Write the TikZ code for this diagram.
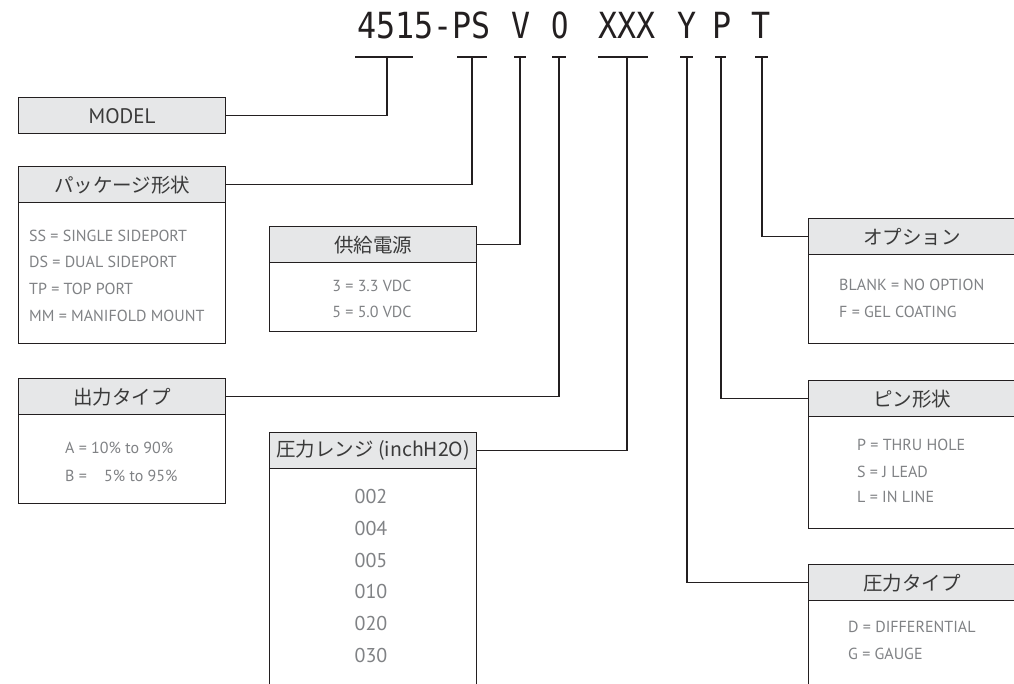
\documentclass[tikz,border=0pt]{standalone}
\usepackage{fontspec}
\setmainfont{PT Sans}
\newfontfamily\jp{Noto Sans CJK JP}
\newfontfamily\titlefont{DejaVu Sans Mono}
\definecolor{lc}{HTML}{231F20}
\definecolor{hf}{HTML}{E6E7E8}
\definecolor{ht}{HTML}{3A3A3A}
\definecolor{bt}{HTML}{808285}
\tikzset{
 ln/.style={line width=1.3pt, draw=lc},
 hdr/.style={draw=lc, line width=1.3pt, fill=hf, minimum width=207pt, minimum height=36pt, inner sep=0pt, anchor=north west, text=ht, font=\jp\fontsize{19.5}{20}\selectfont},
 bodybox/.style={draw=lc, line width=1.3pt, fill=white, minimum width=207pt, inner sep=0pt, anchor=north west},
 item/.style={text=bt, font=\fontsize{16}{17}\selectfont, inner sep=0pt, text height=11pt, text depth=0pt},
 rng/.style={text=bt, font=\fontsize{20}{22}\selectfont, inner sep=0pt, text height=14pt, text depth=0pt},
 ttl/.style={text=lc, font=\titlefont\fontsize{36}{40}\selectfont, inner sep=0pt, anchor=base},
}
\begin{document}
\begin{tikzpicture}[x=1pt,y=-1pt]
\useasboundingbox (0,0) rectangle (1014,683);
\clip (0,0) rectangle (1014,683);
% title
\node[ttl] (c1) at (424,38) {\scalebox{0.88}[1]{4515-PS}};
\node[ttl] (c2) at (521,38) {\scalebox{0.88}[1]{V}};
\node[ttl] (c3) at (560,38) {\scalebox{0.8}[1]{O}};
\node[ttl] (c4) at (627,38) {\scalebox{0.88}[1]{XXX}};
\node[ttl] (c5) at (687,38) {\scalebox{0.88}[1]{Y}};
\node[ttl] (c6) at (722,38) {\scalebox{0.88}[1]{P}};
\node[ttl] (c7) at (761,38) {\scalebox{0.88}[1]{T}};
% tick coordinates
\coordinate (tm) at (387,57);
\coordinate (tps) at (472,57);
\coordinate (tv) at (520,57);
\coordinate (to) at (559,57);
\coordinate (tx) at (627,57);
\coordinate (ty) at (687,57);
\coordinate (tp) at (721,57);
\coordinate (tt) at (762,57);
\draw[ln] ([xshift=-32pt]tm) -- ([xshift=26pt]tm);
\draw[ln] ([xshift=-15pt]tps) -- ([xshift=15pt]tps);
\draw[ln] ([xshift=-6pt]tv) -- ([xshift=6pt]tv);
\draw[ln] ([xshift=-7pt]to) -- ([xshift=7pt]to);
\draw[ln] ([xshift=-29pt]tx) -- ([xshift=21pt]tx);
\draw[ln] ([xshift=-7pt]ty) -- ([xshift=6pt]ty);
\draw[ln] ([xshift=-6pt]tp) -- ([xshift=5pt]tp);
\draw[ln] ([xshift=-7pt]tt) -- ([xshift=6pt]tt);
% MODEL
\node[hdr, font=\fontsize{21}{22}\selectfont] (mh) at (18,97) {MODEL};
% package
\node[bodybox, minimum height=141pt] (pkb) at (18,202) {};
\node[hdr] (pkh) at (18,166) {パッケージ形状};
\node[item, anchor=west] (pk1) at (29,236) {SS = SINGLE SIDEPORT};
\node[item, anchor=west] (pk2) at (29,262) {DS = DUAL SIDEPORT};
\node[item, anchor=west] (pk3) at (29,289) {TP = TOP PORT};
\node[item, anchor=west] (pk4) at (29,316) {MM = MANIFOLD MOUNT};
% supply
\node[bodybox, minimum height=69pt] (spb) at (269,262) {};
\node[hdr] (sph) at (269,226) {供給電源};
\node[item] (sp1) at (372,286) {3 = 3.3 VDC};
\node[item] (sp2) at (372,312) {5 = 5.0 VDC};
% output
\node[bodybox, minimum height=89pt] (otb) at (18,414) {};
\node[hdr] (oth) at (18,378) {出力タイプ};
\node[item, anchor=west] (ot1) at (65,448) {A = 10\% to 90\%};
\node[item, anchor=west] (ot2) at (65,476) {B = \phantom{1}\ 5\% to 95\%};
% range
\node[bodybox, minimum height=260pt] (rgb) at (269,467) {};
\node[hdr] (rgh) at (269,432) {圧力レンジ (inchH2O)};
\node[rng] (r1) at (371,496) {002};
\node[rng] (r2) at (371,528) {004};
\node[rng] (r3) at (371,560) {005};
\node[rng] (r4) at (371,591) {010};
\node[rng] (r5) at (371,623) {020};
\node[rng] (r6) at (371,655) {030};
% option
\node[bodybox, minimum height=90pt] (opb) at (808,253) {};
\node[hdr] (oph) at (808,218) {オプション};
\node[item, anchor=west] (op1) at (839,285) {BLANK = NO OPTION};
\node[item, anchor=west] (op2) at (839,312) {F = GEL COATING};
% pin
\node[bodybox, minimum height=113pt] (pnb) at (808,415) {};
\node[hdr] (pnh) at (808,380) {ピン形状};
\node[item, anchor=west] (pn1) at (857,445) {P = THRU HOLE};
\node[item, anchor=west] (pn2) at (857,472) {S = J LEAD};
\node[item, anchor=west] (pn3) at (857,497) {L = IN LINE};
% pressure type
\node[bodybox, minimum height=150pt] (ptb) at (808,599) {};
\node[hdr] (pth) at (808,564) {圧力タイプ};
\node[item, anchor=west] (pt1) at (848,627) {D = DIFFERENTIAL};
\node[item, anchor=west] (pt2) at (848,654) {G = GAUGE};
% connectors
\draw[ln] (tm) |- (mh.east);
\draw[ln] (tps) |- (pkh.east);
\draw[ln] (tv) |- (sph.east);
\draw[ln] (to) |- (oth.east);
\draw[ln] (tx) |- (rgh.east);
\draw[ln] (ty) |- (pth.west);
\draw[ln] (tp) |- (pnh.west);
\draw[ln] (tt) |- (oph.west);
\end{tikzpicture}
\end{document}
